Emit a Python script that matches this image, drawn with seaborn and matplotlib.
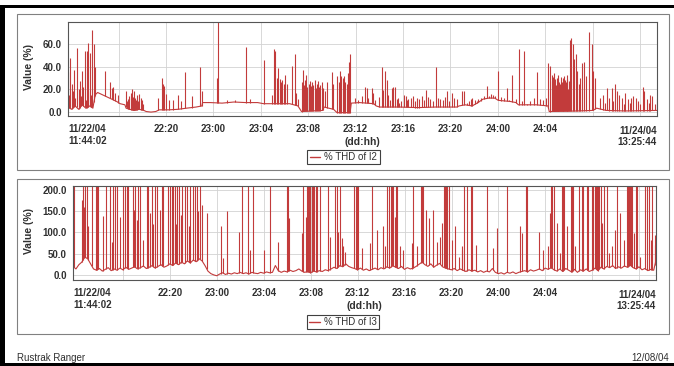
import numpy as np
import pandas as pd
import matplotlib
matplotlib.use('Agg')
import matplotlib.pyplot as plt
from matplotlib.lines import Line2D
from matplotlib.patches import Rectangle
import seaborn as sns

START = pd.Timestamp('2004-11-22 11:44:02')
END = pd.Timestamp('2004-11-24 13:25:44')
TICK_TIMES = pd.date_range('2004-11-22 16:00', '2004-11-24 12:00', freq='4h')
tick_labels = ['11/22/04\n11:44:02', '', '22:20', '23:00', '23:04', '23:08', '23:12',
               '23:16', '23:20', '24:00', '24:04', '', '']
end_label = '11/24/04\n13:25:44'

# ---- % THD of I2 (hours since start, %) ----
i2_base = [
    (0.0, 4), (0.3, 2), (0.6, 5), (0.9, 2), (1.2, 6), (1.5, 3), (1.8, 5), (2.1, 3),
    (2.3, 15), (2.5, 17), (2.9, 15), (3.3, 13), (3.7, 11), (4.1, 9), (4.4, 7), (4.8, 6),
    (4.9, 3), (5.2, 2), (5.6, 1), (6.0, 2), (6.4, 1), (6.6, 0), (7.0, -0.5), (7.4, 0),
    (7.7, 1.5), (8.5, 1.5), (9.3, 2), (10.0, 3), (10.8, 4), (11.3, 5), (11.35, 8), (12.0, 8),
    (13.0, 7.5), (14.0, 8.5), (15.0, 8), (16.0, 8), (16.5, 7), (17.2, 7), (18.7, 7), (19.4, 5),
    (19.7, 0), (21.5, 1), (21.6, 4), (22.4, 2), (22.7, -1), (23.8, -1), (23.9, 7.5), (24.6, 8),
    (25.8, 7), (26.0, 5), (26.3, 4), (28.0, 4), (29.5, 3.5), (31.0, 4), (32.8, 4), (33.0, 5),
    (33.5, 6), (34.1, 5), (34.6, 8), (35.0, 11), (35.5, 12), (36.0, 12), (36.3, 10), (37.3, 9),
    (37.8, 8), (38.0, 6), (39.5, 6), (40.5, 5), (40.6, 0), (43.0, 0.5), (44.3, 1), (44.6, 3),
    (45.4, 1), (47.0, 0.5), (49.7, 1),
]
i2_spikes = [
    (0.03, 35), (0.10, 15), (0.17, 48), (0.31, 25), (0.40, 18), (0.51, 37), (0.60, 12), (0.73, 57),
    (0.90, 20), (1.01, 27), (1.10, 14), (1.20, 36), (1.30, 22), (1.43, 54), (1.50, 10), (1.58, 54),
    (1.65, 18), (1.71, 61), (1.86, 52), (1.95, 15), (2.00, 73), (2.19, 60), (2.28, 40),
    (3.12, 36), (3.54, 26), (3.68, 21), (3.83, 22), (3.97, 17), (4.25, 15),
    (4.87, 18), (4.95, 9), (5.04, 11), (5.11, 14), (5.18, 12), (5.29, 17), (5.37, 20), (5.46, 13),
    (5.51, 8), (5.57, 18), (5.65, 12), (5.74, 10), (5.85, 15), (5.93, 9), (6.02, 16), (6.13, 12),
    (6.24, 10), (6.36, 7),
    (7.62, 12), (7.90, 30), (8.02, 25), (8.10, 23), (8.27, 16), (8.55, 10), (8.90, 10), (9.30, 15),
    (9.50, 9), (9.87, 35), (10.44, 14), (11.14, 40), (11.28, 18), (12.55, 30), (12.69, 85), (13.40, 10),
    (14.10, 10), (15.05, 58), (15.36, 11), (16.54, 46),
    (17.18, 15), (17.38, 56), (17.49, 54), (17.60, 30), (17.75, 39), (17.89, 29), (17.97, 26), (18.08, 28),
    (18.23, 25), (18.34, 33), (18.45, 25), (18.90, 41), (19.15, 51), (19.24, 17), (19.43, 11),
    (19.72, 26), (19.80, 37), (19.90, 24), (20.00, 28), (20.10, 33), (20.20, 22), (20.30, 25), (20.40, 27),
    (20.50, 23), (20.60, 26), (20.70, 24), (20.80, 28), (20.90, 21), (21.00, 25), (21.10, 27), (21.20, 22),
    (21.30, 24), (21.40, 26), (21.50, 21),
    (21.69, 18), (21.83, 26), (22.25, 35), (22.39, 25),
    (22.73, 32), (22.84, 26), (22.95, 36), (23.06, 32), (23.17, 30), (23.28, 32), (23.39, 26), (23.50, 25),
    (23.61, 34), (23.70, 44), (23.80, 51),
    (24.20, 12), (24.45, 10), (24.80, 14), (25.06, 22), (25.20, 21), (25.35, 12), (25.62, 21), (25.76, 17),
    (25.90, 10), (26.20, 13),
    (26.47, 40), (26.61, 19), (26.75, 36), (26.89, 28), (27.03, 15), (27.17, 10), (27.31, 21), (27.45, 22),
    (27.59, 22), (27.73, 11), (27.85, 12), (27.95, 8), (28.10, 9),
    (28.35, 15), (28.49, 14), (28.60, 10), (28.72, 11), (28.90, 12), (29.14, 14), (29.30, 9), (29.42, 12),
    (29.60, 11), (29.84, 14), (30.00, 10), (30.18, 19), (30.35, 13), (30.55, 11), (30.80, 9),
    (31.05, 40), (31.20, 12), (31.39, 11), (31.60, 10), (31.85, 13), (32.00, 18), (32.15, 9), (32.37, 17),
    (32.55, 12), (32.80, 11), (33.22, 18), (33.41, 18),
    (33.64, 8), (33.80, 9), (33.98, 11), (34.10, 12), (34.35, 10), (34.50, 9), (34.63, 11), (34.82, 12),
    (35.10, 14), (35.33, 23), (35.56, 14), (35.70, 16), (35.84, 15),
    (36.04, 14), (36.26, 36), (36.50, 13), (36.80, 12), (37.02, 21), (37.20, 10), (37.50, 33), (37.80, 11),
    (38.09, 56), (38.30, 9), (38.51, 54), (38.70, 7), (39.00, 9), (39.30, 12), (39.61, 35),
    (39.83, 11), (40.10, 10), (40.30, 12), (40.53, 43), (40.67, 41),
    (40.80, 33), (40.87, 27), (40.95, 31), (41.02, 34), (41.10, 29), (41.17, 24), (41.24, 30), (41.31, 28),
    (41.38, 33), (41.45, 26), (41.52, 25), (41.59, 31), (41.66, 26), (41.73, 23), (41.80, 30), (41.87, 32),
    (41.95, 28), (42.02, 26), (42.09, 33), (42.14, 29), (42.20, 20), (42.28, 27), (42.36, 64), (42.48, 66),
    (42.59, 60), (42.70, 47), (42.84, 51), (42.98, 36), (43.10, 25), (43.20, 30), (43.35, 43), (43.55, 44),
    (43.72, 32), (43.97, 71), (44.19, 60), (44.33, 36), (44.47, 30),
    (44.90, 12), (45.12, 15), (45.30, 8), (45.46, 21), (45.68, 12), (45.88, 21), (46.00, 9), (46.16, 25),
    (46.30, 18), (46.52, 15), (46.78, 12), (46.90, 7), (47.00, 17), (47.23, 11), (47.40, 8), (47.51, 12),
    (47.71, 14), (47.93, 12), (48.10, 9), (48.30, 7), (48.50, 22), (48.61, 18), (48.84, 11), (49.00, 8),
    (49.11, 15), (49.25, 14), (49.50, 7), (49.73, 11),
]

# ---- % THD of I3 ----
# slow part, one reading every 15 minutes from the start
i3_base_v = [
    20, 14, 24, 30, 42, 38, 26, 14, 11,
    15, 9, 13, 17, 10, 14, 11, 16, 12, 18, 13, 16,
    19, 14, 17, 21, 15, 18, 22, 16, 20, 24, 18, 21,
    26, 22, 28, 24, 30, 26, 33, 28, 35, 31, 38, 33,
    22, 9, 3, 0, -2, 2, 5, 1, 4, 2, 5, 3,
    6, 3, 5, 2, 6, 4, 3, 6, 4, 7, 5, 6,
    22, 10, 6, 9, 7, 11, 8, 10, 14, 9, 6, 8,
    5, 9, 7, 10, 8, 12, 10, 14, 18, 15, 22, 19,
    26, 20, 17, 15, 12, 16, 11, 14, 10, 13, 16, 12,
    17, 14, 19, 16, 22, 18, 15, 20, 13, 17, 14, 16,
    20, 25, 30, 24, 20, 26, 18, 23, 27, 19, 16, 14,
    12, 15, 10, 14, 11, 8, 12, 9, 11, 7, 10, 6,
    9, 7, 15, 6, 3, 5, 2, 6, 4, 7, 3, 6,
    8, 10, 7, 12, 9, 11, 14, 10, 16, 13, 17, 12,
    9, 14, 8, 15, 11, 7, 13, 6, 12, 9, 14, 8,
    11, 16, 10, 18, 14, 20, 17, 22, 15, 19, 16, 21,
    18, 23, 17, 14, 19, 12, 15, 10, 13, 11,
]
i3_spikes = [
    (0.74, 176), (0.94, 160), (1.30, 114), (2.53, 139), (3.30, 78), (4.01, 137), (5.20, 153), (5.43, 129),
    (6.00, 82), (6.56, 145), (6.85, 120), (7.42, 153), (8.78, 120), (9.18, 140), (9.85, 115), (10.65, 150),
    (10.97, 165), (11.40, 145), (12.59, 114), (12.76, 40), (13.10, 150), (14.18, 102), (15.09, 59), (16.28, 59),
    (17.50, 78), (18.45, 133), (19.50, 98), (19.85, 137), (21.90, 90), (22.60, 102), (22.90, 86), (23.04, 67),
    (23.19, 55), (24.61, 63), (25.32, 74), (25.89, 106), (26.40, 114), (26.60, 67), (27.45, 137), (27.88, 67),
    (28.16, 59), (28.87, 74), (29.30, 67), (30.09, 153), (30.38, 133), (30.72, 153), (31.00, 78), (31.29, 90),
    (31.43, 122), (32.28, 82), (32.56, 114), (32.93, 43), (33.14, 67), (33.20, 59), (34.36, 70), (35.83, 63),
    (36.10, 110), (38.07, 114), (38.27, 98), (39.70, 102), (40.10, 59), (40.45, 67), (40.66, 145), (41.26, 122),
    (41.54, 51), (42.10, 114), (42.80, 67), (45.10, 122), (45.66, 51), (45.95, 67), (46.23, 106), (46.66, 145),
    (46.94, 82), (47.80, 98), (48.37, 43), (49.30, 82), (49.60, 70), (49.65, 94),
]
# spikes that run off the top of the 0-200 scale
i3_offscale = [
    0.09, 0.85, 1.02, 1.19, 1.62, 1.96, 2.05, 2.13, 2.81, 3.15, 3.41, 3.58, 3.75, 4.26, 4.43, 4.60,
    4.69, 5.12, 5.29, 5.54, 5.71, 6.31, 6.39, 6.73, 6.99, 7.16, 7.59, 7.67, 8.10, 8.27, 8.44, 8.53,
    8.70, 8.87, 9.04, 9.29, 9.55, 9.72, 9.97, 10.23, 10.40, 10.57, 10.83, 14.41, 14.92, 15.35, 16.79,
    18.24, 18.33, 19.61, 19.95, 20.03, 20.12, 20.20, 20.37, 20.46, 20.55, 20.72, 20.80, 21.06, 21.74,
    22.34, 22.51, 22.76, 23.95, 24.13, 24.21, 24.30, 25.49, 26.77, 26.94, 27.11, 27.19, 27.28, 27.54,
    27.62, 28.98, 29.67, 29.75, 29.84, 31.63, 31.71, 31.80, 31.88, 32.05, 33.33, 33.59, 33.93, 34.01,
    35.29, 36.99, 38.62, 38.70, 40.75, 40.83, 41.00, 41.69, 41.77, 41.86, 42.45, 42.54, 42.63, 43.14,
    43.39, 43.48, 43.82, 43.90, 44.25, 44.33, 44.50, 44.59, 44.67, 44.76, 44.84, 45.01, 45.27, 45.52,
    46.38, 47.23, 47.31, 47.40, 47.48, 47.57, 47.65, 47.99, 48.08, 48.76, 48.93, 49.10, 49.36,
]
i3_last = 35   # reading at END
OFFSCALE = 215

RED = '#c23b3b'
W, H = 674, 366


def hours(times):
    return list((times - START) / pd.Timedelta(hours=1))


def draw_trace(ax, base, spikes):
    bh, bv = zip(*base)
    df = pd.DataFrame({'hours': bh, 'value': bv})
    sns.lineplot(data=df, x='hours', y='value', ax=ax, color=RED, lw=0.8,
                 estimator=None, legend=False)
    sh, sv = zip(*spikes)
    foot = np.interp(sh, bh, bv)
    ax.vlines(sh, foot, sv, color=RED, lw=0.8)


def style_axes(ax, yticks, ylim, label, legend_xy):
    ticks = [0] + hours(TICK_TIMES)
    ax.set_xlim(0, hours(pd.DatetimeIndex([END]))[0])
    ax.set_ylim(*ylim)
    ax.set_xticks(ticks)
    ax.set_xticklabels(tick_labels, fontweight='bold', fontsize=7, color='#303030')
    ax.get_xticklabels()[0].set_ha('left')
    ax.set_yticks(yticks)
    ax.set_yticklabels([f'{v:.1f}' for v in yticks], fontweight='bold', fontsize=7, color='#303030')
    ax.set_xlabel('')
    ax.set_ylabel('')
    ax.grid(True, color='#d2d2d2', lw=0.6)
    ax.set_axisbelow(True)
    for sp in ax.spines.values():
        sp.set_color('#555555')
        sp.set_linewidth(0.8)
    ax.tick_params(axis='x', direction='inout', length=6, width=0.8, color='#303030', pad=3)
    ax.tick_params(axis='y', direction='out', length=2.5, width=0.8, color='#303030', pad=2)
    ax.annotate(end_label, xy=(1, 0), xycoords='axes fraction', xytext=(0, -7),
                textcoords='offset points', ha='right', va='top', fontsize=7,
                fontweight='bold', color='#303030', linespacing=1.15)
    ax.annotate('(dd:hh)', xy=(ticks[6] + 0.6, 0), xycoords=('data', 'axes fraction'),
                xytext=(0, -15), textcoords='offset points', ha='center', va='top',
                fontsize=7.5, fontweight='bold', color='#303030')
    leg = ax.legend(handles=[Line2D([], [], color=RED, lw=1)], labels=[label],
                    loc='center', bbox_to_anchor=(legend_xy[0] / W, 1 - legend_xy[1] / H),
                    bbox_transform=ax.figure.transFigure, fontsize=7, frameon=True,
                    fancybox=False, edgecolor='#404040', framealpha=1, handlelength=1.1,
                    handletextpad=0.4, borderpad=0.25)
    leg.get_frame().set_linewidth(0.8)


sns.set_theme(style='white')
plt.rcParams['font.family'] = ['Liberation Sans', 'DejaVu Sans']
plt.rcParams['text.color'] = '#303030'

fig = plt.figure(figsize=(W / 100, H / 100), dpi=100)
fig.patch.set_facecolor('white')

ax1 = fig.add_axes([68 / W, 1 - 116 / H, 589 / W, 94 / H])
ax2 = fig.add_axes([73 / W, 1 - 280 / H, 583 / W, 94 / H])

draw_trace(ax1, i2_base, i2_spikes)

i3_h = hours(pd.date_range(START, periods=len(i3_base_v), freq='15min'))
i3_h += hours(pd.DatetimeIndex([END]))
i3_base = list(zip(i3_h, i3_base_v + [i3_last]))
top = [(h, OFFSCALE) for h in i3_offscale]
draw_trace(ax2, i3_base, sorted(i3_spikes + top))

style_axes(ax1, [0, 20, 40, 60], (-4, 80), '% THD of I2', (343.5, 157))
style_axes(ax2, [0, 50, 100, 150, 200], (-12, 209), '% THD of I3', (343, 322))

for y0, y1 in [(14, 170), (179, 334)]:
    fig.patches.append(Rectangle((17 / W, 1 - y1 / H), 652 / W, (y1 - y0) / H,
                                 transform=fig.transFigure, fill=False,
                                 ec='#808080', lw=0.8))

fig.text(29.5 / W, 1 - 66.7 / H, 'Value (%)', rotation=90, ha='center', va='center',
         fontsize=7.5, fontweight='bold')
fig.text(29.5 / W, 1 - 231 / H, 'Value (%)', rotation=90, ha='center', va='center',
         fontsize=7.5, fontweight='bold')
fig.text(17 / W, 1 - 358 / H, 'Rustrak Ranger', ha='left', va='center', fontsize=7)
fig.text(669 / W, 1 - 358 / H, '12/08/04', ha='right', va='center', fontsize=7)

# scan edges
fig.patches.append(Rectangle((0, 1 - 7.5 / H), 1, 2.5 / H, transform=fig.transFigure,
                             fc='black', ec='none'))
fig.patches.append(Rectangle((0, 0), 5 / W, 1 - 5 / H, transform=fig.transFigure,
                             fc='black', ec='none'))
fig.patches.append(Rectangle((0, 0), 1, 3 / H, transform=fig.transFigure,
                             fc='black', ec='none'))

fig.savefig('out.png', dpi=100)
